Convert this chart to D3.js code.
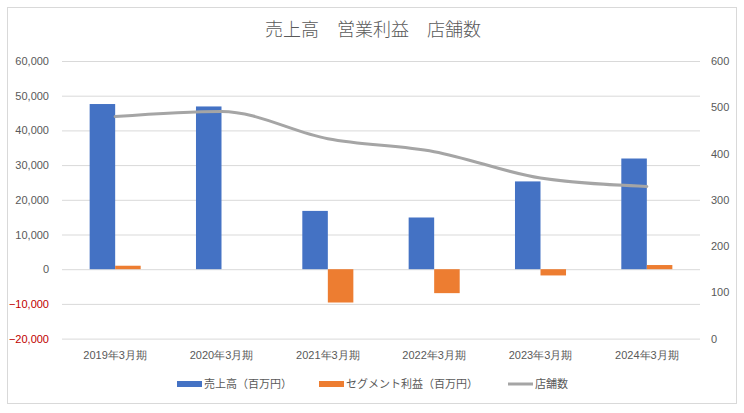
<!DOCTYPE html>
<html><head><meta charset="utf-8">
<script src="https://cdn.jsdelivr.net/npm/d3@7"></script>
<style>
body{margin:0;background:#fff;}
svg{display:block;font-family:"Noto Sans CJK JP","Noto Sans",sans-serif;}
</style></head>
<body><svg id="c" width="744" height="413"></svg>
<script>
const categories = ["2019年3月期","2020年3月期","2021年3月期","2022年3月期","2023年3月期","2024年3月期"];
const sales = [47600, 46900, 16800, 14900, 25300, 31900];
const segmentProfit = [1000, 0, -9600, -6900, -1800, 1200];
const stores = [480, 491, 432, 404, 347, 329];
const leftTicks = [-20000,-10000,0,10000,20000,30000,40000,50000,60000];
const rightTicks = [0,100,200,300,400,500,600];
const seriesNames = ["売上高（百万円）","セグメント利益（百万円）","店舗数"];
const title = "売上高　営業利益　店舗数";

const colors = ["#4472C4","#ED7D31","#A5A5A5"];
const svg = d3.select("#c");
const L = 62, R = 700, T = 61, B = 338.6;

svg.append("rect").attr("x",7.5).attr("y",7.5).attr("width",729).attr("height",396)
  .attr("fill","#fff").attr("stroke","#d9d9d9");

svg.append("text").attr("x",373).attr("y",36).attr("text-anchor","middle")
  .attr("font-size",18).attr("font-weight",300).attr("fill","#595959").text(title);

const x = d3.scaleBand().domain(categories).range([L,R]).paddingInner(0).paddingOuter(0);
const yL = d3.scaleLinear().domain([-20000,60000]).range([B,T]);
const yR = d3.scaleLinear().domain([0,600]).range([B,T]);

const gridAxis = d3.axisLeft(yL).tickValues(leftTicks).tickSize(-(R-L)).tickFormat("");
const g = svg.append("g").attr("transform",`translate(${L},0)`).call(gridAxis);
g.select(".domain").remove();
g.selectAll("line").attr("stroke","#d9d9d9");

const la = svg.append("g").attr("transform",`translate(${L-10},0)`)
  .call(d3.axisLeft(yL).tickValues(leftTicks).tickSize(0).tickFormat(d3.format(",")));
la.select(".domain").remove();
la.selectAll("text").attr("font-size",11).attr("fill",d=>d<0?"#C00000":"#595959")
  .attr("font-family","'Liberation Sans','Noto Sans',sans-serif");

const ra = svg.append("g").attr("transform",`translate(${R+11},0)`)
  .call(d3.axisRight(yR).tickValues(rightTicks).tickSize(0));
ra.select(".domain").remove();
ra.selectAll("text").attr("font-size",11).attr("fill","#595959").attr("x",0)
  .attr("font-family","'Liberation Sans','Noto Sans',sans-serif");

const xa = svg.append("g").attr("transform",`translate(0,${B+10})`)
  .call(d3.axisBottom(x).tickSize(0));
xa.select(".domain").remove();
xa.selectAll("text").attr("font-size",11).attr("fill","#595959");

const bw = x.bandwidth()*0.24;
const cx = d => x(d)+x.bandwidth()/2;

svg.append("g").selectAll("rect").data(categories).join("rect")
  .attr("x",d=>cx(d)-bw).attr("width",bw)
  .attr("y",(d,i)=>yL(Math.max(0,sales[i])))
  .attr("height",(d,i)=>Math.abs(yL(sales[i])-yL(0)))
  .attr("fill",colors[0]);

svg.append("g").selectAll("rect").data(categories).join("rect")
  .attr("x",d=>cx(d)).attr("width",bw)
  .attr("y",(d,i)=>yL(Math.max(0,segmentProfit[i])))
  .attr("height",(d,i)=>Math.abs(yL(segmentProfit[i])-yL(0)))
  .attr("fill",colors[1]);

const line = d3.line().x((d,i)=>cx(categories[i])).y(d=>yR(d)).curve(d3.curveMonotoneX);
svg.append("path").datum(stores).attr("d",line).attr("fill","none")
  .attr("stroke",colors[2]).attr("stroke-width",3).attr("stroke-linecap","round");

const lg = svg.append("g");
const items = [
  {x:177, type:"rect", c:colors[0], t:seriesNames[0]},
  {x:319, type:"rect", c:colors[1], t:seriesNames[1]},
  {x:508, type:"line", c:colors[2], t:seriesNames[2]}
];
items.forEach(it=>{
  if(it.type==="rect"){
    lg.append("rect").attr("x",it.x).attr("y",381).attr("width",25).attr("height",6).attr("fill",it.c);
  } else {
    lg.append("line").attr("x1",it.x).attr("x2",it.x+25).attr("y1",384).attr("y2",384)
      .attr("stroke",it.c).attr("stroke-width",3);
  }
  lg.append("text").attr("x",it.x+27).attr("y",388).attr("font-size",11).attr("fill","#595959").text(it.t);
});
</script></body></html>
